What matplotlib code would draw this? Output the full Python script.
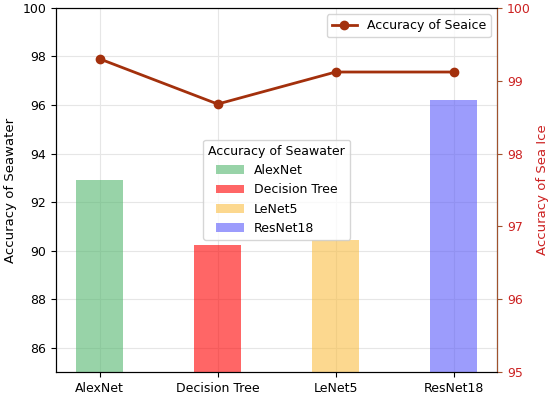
import matplotlib.pyplot as plt

models = ["AlexNet", "Decision Tree", "LeNet5", "ResNet18"]
seawater_acc = [92.9, 90.23, 90.45, 96.2]
seaice_acc = [99.3, 98.68, 99.12, 99.12]
bar_colors = ["#53b76e", "#ff0000", "#fabe44", "#5a5afa"]
line_color = "#a3300c"

fig = plt.figure(figsize=(5.5, 3.97), dpi=100)
ax = fig.add_axes([0.102, 0.063, 0.802, 0.917])

x = range(len(models))
bars = ax.bar(x, seawater_acc, width=0.4, color=bar_colors, alpha=0.6, zorder=2)
for b, name in zip(bars, models):
    b.set_label(name)
ax.set_ylim(85, 100)
ax.set_xticks(list(x))
ax.set_xticklabels(models, fontsize=9)
ax.tick_params(axis="y", labelsize=9)
ax.set_ylabel("Accuracy of Seawater", fontsize=9.5)
ax.grid(True, color="#e6e6e6", linewidth=0.8, zorder=0)
ax.set_axisbelow(True)
ax.legend(loc="center", title="Accuracy of Seawater", fontsize=9,
          title_fontsize=9, handlelength=2.2)

ax2 = ax.twinx()
ax2.plot(x, seaice_acc, color=line_color, marker="o", markersize=6,
         linewidth=2, label="Accuracy of Seaice")
ax2.set_ylim(95, 100)
ax2.set_ylabel("Accuracy of Sea Ice", color="#cc2222", fontsize=9.5)
ax2.tick_params(axis="y", colors="#cc2222", labelsize=9)
ax2.tick_params(axis="y", color="#a0522d")
ax2.spines["right"].set_color("#a0522d")
ax2.legend(loc="upper right", fontsize=9)

fig.savefig("out.png")
